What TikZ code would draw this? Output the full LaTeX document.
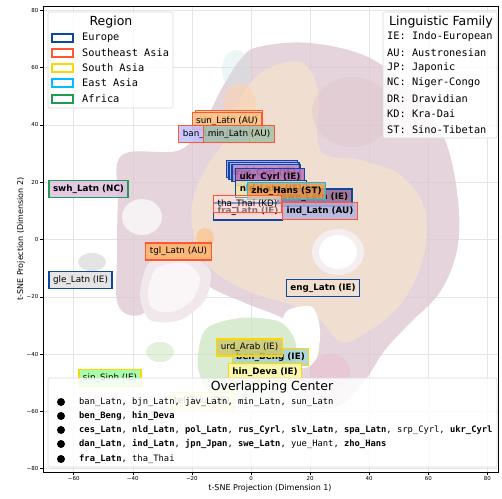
\documentclass[tikz,border=0pt]{standalone}
\usepackage{fontspec}
\setmainfont{DejaVu Sans}
\newfontfamily\monof{DejaVu Sans Mono}
\definecolor{eu}{HTML}{0D47A1}
\definecolor{sea}{HTML}{FF5733}
\definecolor{sa}{HTML}{FFD700}
\definecolor{ea}{HTML}{00BFFF}
\definecolor{af}{HTML}{229954}
\definecolor{mauve}{HTML}{DCC6D0}
\definecolor{beige}{HTML}{F2E1CF}
\definecolor{gridc}{HTML}{E4E4E4}
\definecolor{greenb}{HTML}{CFE6C4}
\newcommand\mbx[1]{{\bfseries #1}}
\tikzset{
  lab/.style={draw, line width=1.2pt, inner xsep=4pt, inner ysep=0pt, minimum height=17pt,
    font=\fontsize{8.8}{10}\selectfont, text=black, fill opacity=0.85, text opacity=1},
  lbf/.style={lab, font=\fontsize{8.8}{10}\selectfont\bfseries},
  legbox/.style={draw=black!15, fill=white, fill opacity=0.85, rounded corners=2pt, line width=0.6pt},
  legtitle/.style={font=\fontsize{12.5}{14}\selectfont},
  legent/.style={anchor=west, inner sep=0pt, font=\monof\fontsize{10.3}{12}\selectfont},
  ovent/.style={anchor=west, inner sep=0pt, font=\monof\fontsize{8.8}{10}\selectfont},
  swatch/.style={line width=1.5pt, fill=white},
  tickl/.style={font=\fontsize{5.5}{6}\selectfont, inner sep=1pt},
  gridl/.style={draw=gridc, line width=0.6pt}
}
\begin{document}
\begin{tikzpicture}[x=1pt,y=-1pt]
\useasboundingbox (0,0) rectangle (502,498);
% grid
\foreach \gx in {73.7,132.8,191.9,251,310.1,369.2,428.3,487.4} {\draw[gridl] (\gx,6) -- (\gx,472);}
\foreach \gy in {10.3,67.6,124.9,182.2,239.5,296.8,354.1,411.4,468.7} {\draw[gridl] (43,\gy) -- (498,\gy);}
% density blobs
\fill[mauve, opacity=0.75] plot[smooth cycle, tension=0.6] coordinates {(258,47) (310,43) (370,58) (415,95) (445,140) (458,200) (457,250) (440,292) (410,323) (385,350) (365,380) (340,405) (312,405) (292,380) (300,350) (288,322) (250,305) (215,290) (185,272) (162,292) (140,315) (118,305) (117,255) (118,200) (122,155) (180,150) (205,120) (222,88) (240,60)};
\fill[white!75!mauve] (142,217) ellipse [x radius=20, y radius=18];
\fill[beige, opacity=0.9] plot[smooth cycle, tension=0.6] coordinates {(262,72) (300,62) (318,90) (320,150) (360,160) (400,175) (425,210) (422,262) (400,305) (370,330) (342,342) (318,318) (292,305) (250,292) (215,272) (196,245) (192,205) (205,170) (225,140) (240,100)};
\fill[mauve!80!pink, opacity=0.45] (352,112) ellipse [x radius=40, y radius=35];
\fill[white!70!mauve] (338,252) ellipse [x radius=26, y radius=23];
\fill[white] (338,252) ellipse [x radius=19, y radius=17];
\fill[white!60!mauve] plot[smooth cycle] coordinates {(150,262) (185,255) (210,270) (205,300) (180,320) (150,320) (140,295)};
\fill[white!85!mauve] plot[smooth cycle] coordinates {(157,268) (185,263) (200,278) (192,300) (172,312) (152,308) (148,290)};
\fill[white] plot[smooth cycle] coordinates {(288,310) (312,307) (320,330) (316,360) (300,368) (285,348) (282,325)};
\fill[greenb, opacity=0.8] plot[smooth cycle] coordinates {(205,330) (240,318) (280,322) (296,345) (290,385) (255,402) (215,398) (198,368)};
\fill[greenb, opacity=0.6] (160,352) ellipse [x radius=14, y radius=10];
\fill[teal!20, opacity=0.35] (236,70) ellipse [x radius=14, y radius=20];
\fill[orange!35, opacity=0.5] (240,105) ellipse [x radius=16, y radius=22];
\fill[black!15, opacity=0.7] (92,262) ellipse [x radius=14, y radius=9];
\fill[orange!50, opacity=0.6] (205,238) ellipse [x radius=9, y radius=10];
\fill[purple!30, opacity=0.35] (330,372) ellipse [x radius=20, y radius=18];
% axes frame
\draw[line width=0.8pt] (43,6) rectangle (498,472);
\foreach \gx/\tl in {73.7/−60,132.8/−40,191.9/−20,251/0,310.1/20,369.2/40,428.3/60,487.4/80}
  {\draw[line width=0.6pt] (\gx,472) -- (\gx,475); \node[tickl, anchor=north] at (\gx,475.5) {\tl};}
\foreach \gy/\tl in {10.3/80,67.6/60,124.9/40,182.2/20,239.5/0,296.8/−20,354.1/−40,411.4/−60,468.7/−80}
  {\draw[line width=0.6pt] (40,\gy) -- (43,\gy); \node[tickl, anchor=east] at (39.5,\gy) {\tl};}
\node[font=\fontsize{8}{9}\selectfont] (xlab) at (270,488) {t-SNE Projection (Dimension 1)};
\node[font=\fontsize{8}{9}\selectfont, rotate=90] (ylab) at (21,239) {t-SNE Projection (Dimension 2)};
% labels
\node[lab, draw=sea, fill=orange!45] (jav) at (229,119) {jav\_Latn (AU)};
\node[lab, draw=sea, fill=orange!45] (sun) at (227,121) {sun\_Latn (AU)};
\node[lab, draw=sea, fill=blue!25] (ban) at (214,134) {ban\_Latn (AU)};
\node[lab, draw=sea, fill=green!30!black!35] (minl) at (239,134) {min\_Latn (AU)};
\node[lbf, draw=af, fill=violet!25] (swh) at (88.5,189) {swh\_Latn (NC)};
\node[lab, draw=eu, fill=black!12] (gle) at (80.5,280) {gle\_Latn (IE)};
\node[lab, draw=sea, fill=orange!60] (tgl) at (178.5,251.5) {tgl\_Latn (AU)};
\node[lbf, draw=eu, fill=beige] (eng) at (323,288) {eng\_Latn (IE)};
\node[lbf, draw=sa, fill=teal!35] (ben) at (270.5,357) {ben\_Beng (IE)};
\node[lab, draw=sa, fill=olive!45] (urd) at (249.5,347.5) {urd\_Arab (IE)};
\node[lbf, draw=sa, fill=yellow!35] (hin) at (265,372) {hin\_Deva (IE)};
\node[lab, draw=sa, fill=green!40] (sin) at (110,378) {sin\_Sinh (IE)};
\node[lab, draw=sa, fill=yellow!25] (tel) at (202,401) {tel\_Telu (DR)};
% center cluster
\node[lbf, draw=eu, fill=blue!40] (ces) at (262,169) {ces\_Latn (IE)};
\node[lbf, draw=eu, fill=blue!30] (pol) at (264,171) {pol\_Latn (IE)};
\node[lbf, draw=eu, fill=violet!45] (rus) at (266,173) {rus\_Cyrl (IE)};
\node[lbf, draw=eu, fill=violet!55] (ukr) at (270,177) {ukr\_Cyrl (IE)};
\node[lbf, draw=eu, fill=yellow!50!brown!40] (nld) at (271,189) {nld\_Latn (IE)};
\node[lbf, draw=eu, fill=violet!60!black!60] (swe) at (315,197.5) {swe\_Latn (IE)};
\node[lbf, draw=ea, fill=orange!60!brown!80] (zho) at (286.5,191) {zho\_Hans (ST)};
\node[lbf, draw=eu, fill=pink!60] (fra) at (248,211.5) {fra\_Latn (IE)};
\node[lab, draw=sea, fill=pink!50, fill opacity=0.5] (tha) at (247.5,204) {tha\_Thai (KD)};
\node[lbf, draw=sea, fill=cyan!20!blue!30] (ind) at (320,211) {ind\_Latn (AU)};
% legend: Region
\node[legbox, minimum width=125pt, minimum height=96pt, inner sep=0pt] (lreg) at (110.5,60) {};
\node[legtitle] (lregt) at (111,22) {Region};
\foreach \yy/\cc/\tt [count=\i] in {38/eu/Europe,53/sea/Southeast Asia,68/sa/South Asia,83/ea/East Asia,99/af/Africa}
  {\draw[swatch, draw=\cc] (52,\yy-4) rectangle (73,\yy+4); \node[legent] (lr\i) at (82,\yy) {\tt};}
% legend: Linguistic Family
\node[legbox, minimum width=114pt, minimum height=126pt, inner sep=0pt] (lfam) at (440,75) {};
\node[legtitle] (lfamt) at (441,22) {Linguistic Family};
\foreach \yy/\tt [count=\i] in {37/IE: Indo-European,53/AU: Austronesian,68/JP: Japonic,83/NC: Niger-Congo,99/DR: Dravidian,114/KD: Kra-Dai,130/ST: Sino-Tibetan}
  {\node[legent] (lf\i) at (387,\yy) {\tt};}
% legend: Overlapping Center
\node[legbox, minimum width=449pt, minimum height=89pt, inner sep=0pt] (lov) at (272.5,422.5) {};
\node[legtitle] (lovt) at (272,387) {Overlapping Center};
\foreach \yy [count=\i] in {402,416,430,444,459} {\fill (61,\yy) circle (4);}
\node[ovent] (ov1) at (79,402) {ban\_Latn, bjn\_Latn, jav\_Latn, min\_Latn, sun\_Latn};
\node[ovent] (ov2) at (79,416) {\mbx{ben\_Beng}, \mbx{hin\_Deva}};
\node[ovent] (ov3) at (79,430) {\mbx{ces\_Latn}, \mbx{nld\_Latn}, \mbx{pol\_Latn}, \mbx{rus\_Cyrl}, \mbx{slv\_Latn}, \mbx{spa\_Latn}, srp\_Cyrl, \mbx{ukr\_Cyrl}};
\node[ovent] (ov4) at (79,444) {\mbx{dan\_Latn}, \mbx{ind\_Latn}, \mbx{jpn\_Jpan}, \mbx{swe\_Latn}, yue\_Hant, \mbx{zho\_Hans}};
\node[ovent] (ov5) at (79,459) {\mbx{fra\_Latn}, tha\_Thai};
\end{tikzpicture}
\end{document}
